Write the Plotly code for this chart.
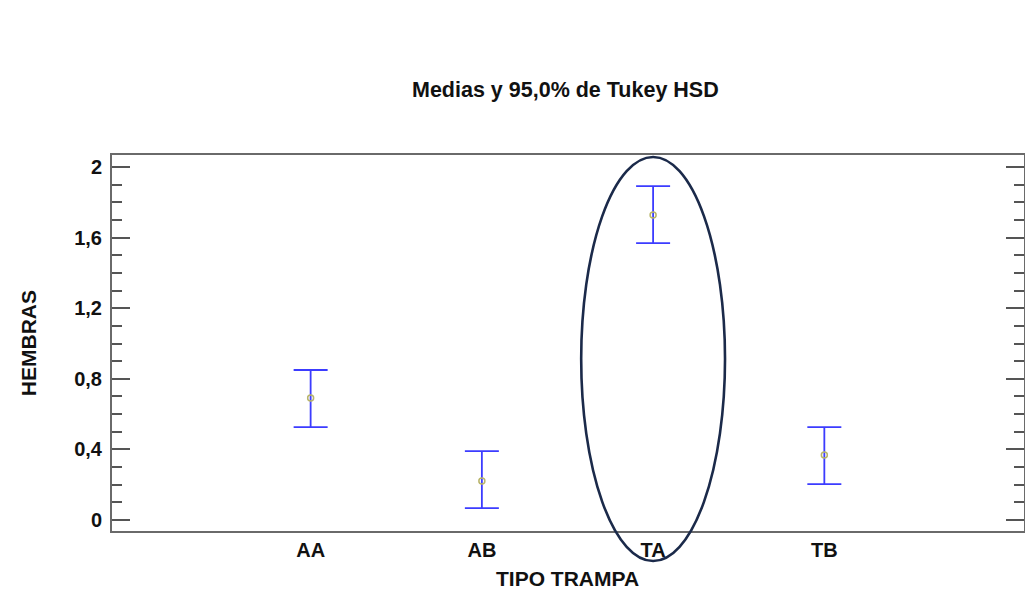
import plotly.graph_objects as go

categories = ["AA", "AB", "TA", "TB"]
means = [0.691, 0.221, 1.728, 0.368]
upper = [0.850, 0.391, 1.892, 0.527]
lower = [0.527, 0.068, 1.569, 0.204]
y_ticks = [0, 0.4, 0.8, 1.2, 1.6, 2.0]

err_plus = [u - m for u, m in zip(upper, means)]
err_minus = [m - l for m, l in zip(means, lower)]

x_range = [-1.16, 4.166]
y_range = [-0.062, 2.068]

def to_paper_x(v):
    return (v - x_range[0]) / (x_range[1] - x_range[0])

def to_paper_y(v):
    return (v - y_range[0]) / (y_range[1] - y_range[0])

FONT = "Liberation Sans, Arial, sans-serif"
TXT = "#111111"

fig = go.Figure()
fig.add_trace(go.Scatter(
    x=list(range(len(categories))), y=means, mode="markers",
    marker=dict(symbol="circle-open", size=6, color="#b8b46a", line=dict(width=1.5)),
    error_y=dict(type="data", symmetric=False, array=err_plus, arrayminus=err_minus,
                 color="#3c3cff", thickness=1.8, width=17),
    showlegend=False,
))

# ellipse highlighting TA (data units converted to paper so it is not clipped)
ex0, ex1 = 1.58, 2.42
ey0, ey1 = -0.232, 2.057
fig.add_shape(type="circle", xref="paper", yref="paper",
              x0=to_paper_x(ex0), x1=to_paper_x(ex1),
              y0=to_paper_y(ey0), y1=to_paper_y(ey1),
              line=dict(color="#1b2a4a", width=2.6))

fig.add_annotation(text="<b>Medias y 95,0% de Tukey HSD</b>", xref="paper", yref="paper",
                   x=0.497, y=1.172, showarrow=False, xanchor="center", yanchor="middle",
                   font=dict(size=21.5, family=FONT, color=TXT))
fig.add_annotation(text="<b>TIPO TRAMPA</b>", xref="paper", yref="paper",
                   x=0.4995, y=-0.125, showarrow=False, xanchor="center", yanchor="middle",
                   font=dict(size=21, family=FONT, color=TXT))
fig.add_annotation(text="<b>HEMBRAS</b>", xref="paper", yref="paper",
                   x=-0.0919, y=0.5, showarrow=False, xanchor="center", yanchor="middle",
                   textangle=-90, font=dict(size=21, family=FONT, color=TXT))

fig.update_layout(
    width=1025, height=606,
    margin=dict(l=104, r=7, t=147, b=83),
    paper_bgcolor="white", plot_bgcolor="white",
    separators=",.",
    font=dict(family=FONT, color=TXT),
    xaxis=dict(
        range=x_range, tickmode="array", tickvals=list(range(len(categories))),
        ticktext=categories, showgrid=False, zeroline=False,
        showline=True, linecolor="#6a6a6a", linewidth=2, mirror=True,
        ticks="", ticklabelstandoff=0,
        tickfont=dict(size=20, family=FONT, weight="bold", color=TXT),
    ),
    yaxis=dict(
        range=y_range, tickmode="array", tickvals=y_ticks, showgrid=False, zeroline=False,
        showline=True, linecolor="#6a6a6a", linewidth=2, mirror="allticks",
        ticks="inside", ticklen=18, tickwidth=2, tickcolor="#555555",
        ticklabelstandoff=4,
        minor=dict(dtick=0.1, ticks="inside", ticklen=10, tickwidth=2, tickcolor="#555555"),
        tickfont=dict(size=20, family=FONT, weight="bold", color=TXT),
    ),
)

fig.write_html("out.html")
